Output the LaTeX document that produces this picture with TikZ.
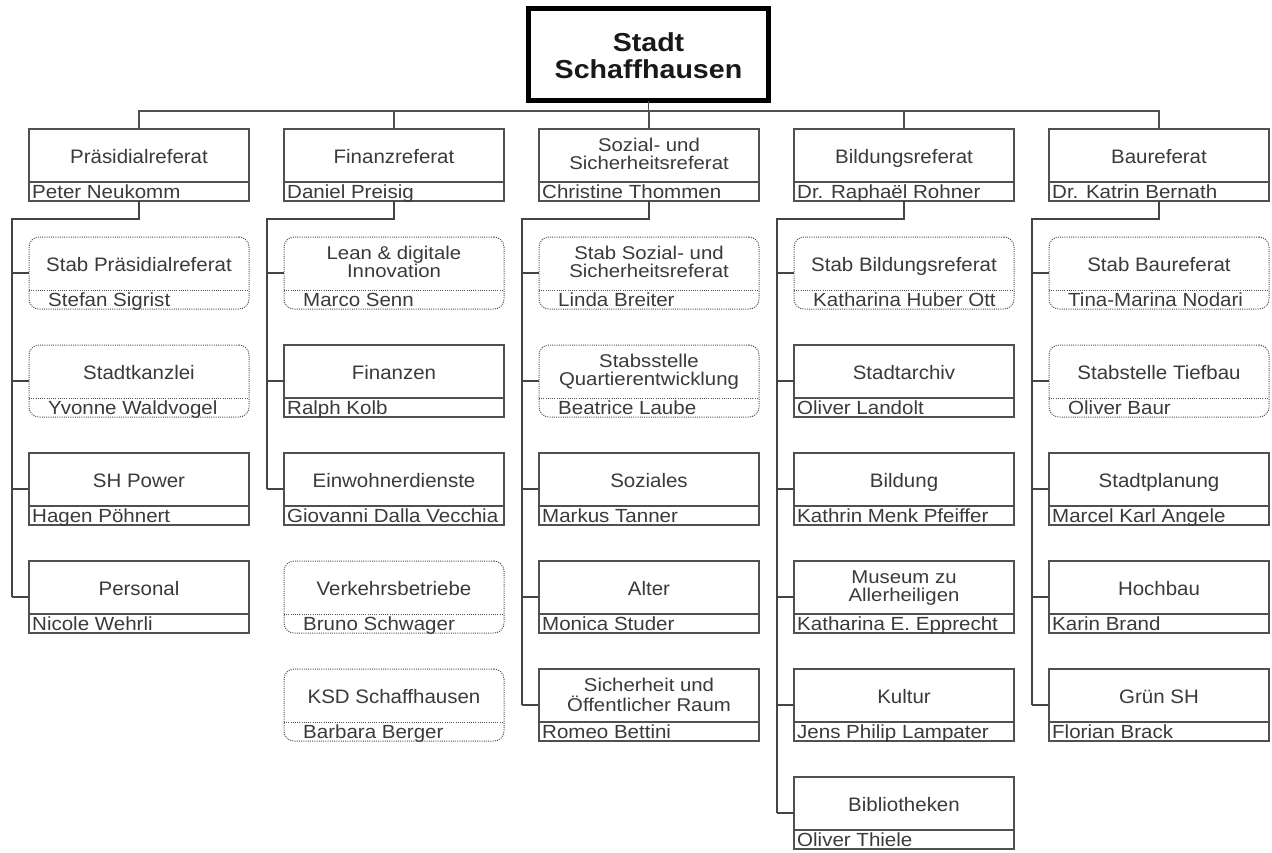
\documentclass[tikz,border=0pt]{standalone}
\usepackage{fontspec}
\usepackage{graphicx}
\setmainfont{Liberation Sans}
\usetikzlibrary{calc}
\definecolor{txt}{HTML}{3a3a3a}
\definecolor{ln}{HTML}{505050}
\definecolor{busc}{HTML}{444444}
\tikzset{
  solidbox/.style={draw=ln, line width=1.3pt, rectangle, minimum width=220pt, minimum height=72pt, inner sep=0pt, outer sep=0pt},
  dotbox/.style={draw=ln, line width=1pt, dash pattern=on 1pt off 1.2pt, rounded corners=10pt, rectangle, minimum width=220pt, minimum height=72pt, inner sep=0pt, outer sep=0pt},
  solidsep/.style={draw=ln, line width=1.3pt},
  dotsep/.style={draw=ln, line width=1pt, dash pattern=on 1pt off 1.2pt},
  hone/.style={anchor=base, text=txt, inner sep=0pt, font=\fontsize{19.5pt}{22pt}\selectfont},
  htwo/.style={anchor=base, text=txt, inner sep=0pt, font=\fontsize{18.5pt}{18pt}\selectfont},
  pname/.style={anchor=base west, text=txt, inner sep=0pt, font=\fontsize{19pt}{20pt}\selectfont},
  topbox/.style={draw=black, line width=5pt, rectangle, minimum width=240pt, minimum height=92pt, inner sep=0pt, outer sep=0pt},
  toptext/.style={anchor=base, text=black!90, inner sep=0pt, font=\bfseries\fontsize{26pt}{26.6pt}\selectfont},
  topline/.style={draw=ln, line width=1.3pt},
  busline/.style={draw=busc, line width=2pt},
  stub/.style={draw=busc, line width=1.4pt},
}
\def\offsolid{3}
\def\offdot{19}
\newcommand\orgunit[7]{%
  \node[#4box, anchor=north west] (#1) at (#2,#3) {};
  \draw[#4sep] ($(#1.north west)+(0,53)$) -- ($(#1.north east)+(0,53)$);
  \ifnum#5=1
    \node[hone] (#1h) at ($(#1.north)+(0,34)$) {\scalebox{1.05}[1]{#6}};
  \else
    \node[htwo] (#1h) at ($(#1.north)+(0,22)$) {\scalebox{1.1}[1]{\begin{tabular}[t]{@{}c@{}}#6\end{tabular}}};
  \fi
  \node[pname] (#1p) at ($(#1.north west)+(\csname off#4\endcsname,69.5)$) {\scalebox{1.08}[1]{#7}};
}
\begin{document}
\begin{tikzpicture}[x=1pt,y=-1pt]
\useasboundingbox (0,0) rectangle (1272,852);
\fill[white] (0,0) rectangle (1272,852);

% top
\node[topbox] (top) at (648.5,54.5) {};
\node[toptext] (toptxt) at (648.5,51.7) {\scalebox{1.1}[1]{\begin{tabular}[t]{@{}c@{}}Stadt\\Schaffhausen\end{tabular}}};

% level 1
\orgunit{p1}{29}{129}{solid}{1}{Präsidialreferat}{Peter Neukomm}
\orgunit{p2}{284}{129}{solid}{1}{Finanzreferat}{Daniel Preisig}
\orgunit{p3}{539}{129}{solid}{2}{Sozial- und\\Sicherheitsreferat}{Christine Thommen}
\orgunit{p4}{794}{129}{solid}{1}{Bildungsreferat}{Dr. Raphaël Rohner}
\orgunit{p5}{1049}{129}{solid}{1}{Baureferat}{Dr. Katrin Bernath}

% column 1
\orgunit{c11}{29}{237}{dot}{1}{Stab Präsidialreferat}{Stefan Sigrist}
\orgunit{c12}{29}{345}{dot}{1}{Stadtkanzlei}{Yvonne Waldvogel}
\orgunit{c13}{29}{453}{solid}{1}{SH Power}{Hagen Pöhnert}
\orgunit{c14}{29}{561}{solid}{1}{Personal}{Nicole Wehrli}
% column 2
\orgunit{c21}{284}{237}{dot}{2}{Lean \& digitale\\Innovation}{Marco Senn}
\orgunit{c22}{284}{345}{solid}{1}{Finanzen}{Ralph Kolb}
\orgunit{c23}{284}{453}{solid}{1}{Einwohnerdienste}{Giovanni Dalla Vecchia}
\orgunit{c24}{284}{561}{dot}{1}{Verkehrsbetriebe}{Bruno Schwager}
\orgunit{c25}{284}{669}{dot}{1}{KSD Schaffhausen}{Barbara Berger}
% column 3
\orgunit{c31}{539}{237}{dot}{2}{Stab Sozial- und\\Sicherheitsreferat}{Linda Breiter}
\orgunit{c32}{539}{345}{dot}{2}{Stabsstelle\\Quartierentwicklung}{Beatrice Laube}
\orgunit{c33}{539}{453}{solid}{1}{Soziales}{Markus Tanner}
\orgunit{c34}{539}{561}{solid}{1}{Alter}{Monica Studer}
\orgunit{c35}{539}{669}{solid}{2}{Sicherheit und\\Öffentlicher Raum}{Romeo Bettini}
% column 4
\orgunit{c41}{794}{237}{dot}{1}{Stab Bildungsreferat}{Katharina Huber Ott}
\orgunit{c42}{794}{345}{solid}{1}{Stadtarchiv}{Oliver Landolt}
\orgunit{c43}{794}{453}{solid}{1}{Bildung}{Kathrin Menk Pfeiffer}
\orgunit{c44}{794}{561}{solid}{2}{Museum zu\\Allerheiligen}{Katharina E. Epprecht}
\orgunit{c45}{794}{669}{solid}{1}{Kultur}{Jens Philip Lampater}
\orgunit{c46}{794}{777}{solid}{1}{Bibliotheken}{Oliver Thiele}
% column 5
\orgunit{c51}{1049}{237}{dot}{1}{Stab Baureferat}{Tina-Marina Nodari}
\orgunit{c52}{1049}{345}{dot}{1}{Stabstelle Tiefbau}{Oliver Baur}
\orgunit{c53}{1049}{453}{solid}{1}{Stadtplanung}{Marcel Karl Angele}
\orgunit{c54}{1049}{561}{solid}{1}{Hochbau}{Karin Brand}
\orgunit{c55}{1049}{669}{solid}{1}{Grün SH}{Florian Brack}

% top connectors
\coordinate (bus0) at (0,111);
\draw[topline] (top.south) -- (top.south |- bus0);
\draw[topline] (p1.north) |- (p5.north |- bus0) -- (p5.north);
\foreach \n in {p2,p3,p4} \draw[topline] (\n.north) -- (\n.north |- bus0);

% column buses
\coordinate (b1) at (12,219);
\coordinate (b2) at (267,219);
\coordinate (b3) at (522,219);
\coordinate (b4) at (777,219);
\coordinate (b5) at (1032,219);
\draw[busline] (p1.south) |- (b1) -- (b1 |- c14.west);
\draw[busline] (p2.south) |- (b2) -- (b2 |- c23.west);
\draw[busline] (p3.south) |- (b3) -- (b3 |- c35.west);
\draw[busline] (p4.south) |- (b4) -- (b4 |- c46.west);
\draw[busline] (p5.south) |- (b5) -- (b5 |- c55.west);
\foreach \c in {c11,c12,c13,c14} \draw[stub] (b1 |- \c.west) -- (\c.west);
\foreach \c in {c21,c22,c23} \draw[stub] (b2 |- \c.west) -- (\c.west);
\foreach \c in {c31,c32,c33,c34,c35} \draw[stub] (b3 |- \c.west) -- (\c.west);
\foreach \c in {c41,c42,c43,c44,c45,c46} \draw[stub] (b4 |- \c.west) -- (\c.west);
\foreach \c in {c51,c52,c53,c54,c55} \draw[stub] (b5 |- \c.west) -- (\c.west);
\end{tikzpicture}
\end{document}
